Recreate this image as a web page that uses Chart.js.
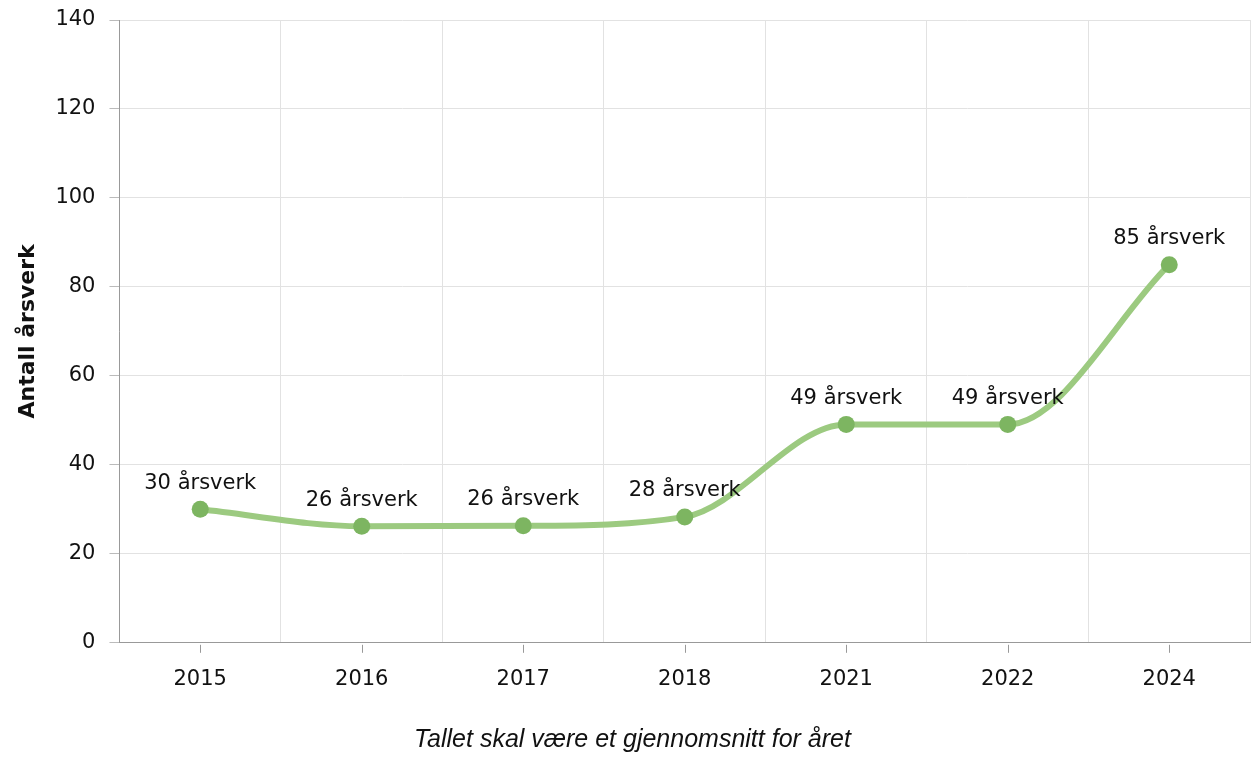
<!DOCTYPE html>
<html>
<head>
<meta charset="utf-8">
<script src="https://cdn.jsdelivr.net/npm/chart.js@4"></script>
<style>
  html, body { margin: 0; padding: 0; background: #fff; }
  #wrap { width: 1255px; height: 758px; }
</style>
</head>
<body>
<div id="wrap"><canvas id="myChart" width="1255" height="758"></canvas></div>
<script>
const years = ['2015', '2016', '2017', '2018', '2021', '2022', '2024'];
const aarsverk = [30, 26.2, 26.3, 28.3, 49.1, 49.1, 85];
const pointLabels = ['30 årsverk', '26 årsverk', '26 årsverk', '28 årsverk', '49 årsverk', '49 årsverk', '85 årsverk'];
const yTicks = [0, 20, 40, 60, 80, 100, 120, 140];

const tickFont = { family: 'DejaVu Sans', size: 21 };

// labels over each point + small tick marks under category centers
const extras = {
  id: 'extras',
  afterDatasetsDraw(chart) {
    const ctx = chart.ctx;
    const meta = chart.getDatasetMeta(0);
    ctx.save();
    ctx.font = '21px "DejaVu Sans"';
    ctx.fillStyle = '#111';
    ctx.textAlign = 'center';
    ctx.textBaseline = 'middle';
    meta.data.forEach((pt, i) => {
      ctx.fillText(pointLabels[i], pt.x, pt.y - 26);
    });
    const xs = chart.scales.x;
    ctx.strokeStyle = '#999';
    ctx.lineWidth = 1;
    years.forEach((y, i) => {
      const px = Math.round(xs.getPixelForValue(i)) + 0.5;
      ctx.beginPath();
      ctx.moveTo(px, xs.top + 2);
      ctx.lineTo(px, xs.top + 10);
      ctx.stroke();
    });
    ctx.restore();
  }
};

var chartContext = document.getElementById('myChart').getContext('2d');
var myChart = new Chart(chartContext, {
  type: 'line',
  data: {
    labels: years,
    datasets: [{
      data: aarsverk,
      borderColor: '#9cca80',
      borderWidth: 6,
      cubicInterpolationMode: 'monotone',
      pointRadius: 8.5,
      pointHoverRadius: 8.5,
      pointBackgroundColor: '#7db561',
      pointBorderColor: '#7db561',
      pointBorderWidth: 0,
      fill: false
    }]
  },
  plugins: [extras],
  options: {
    responsive: false,
    animation: false,
    layout: { autoPadding: false, padding: { top: 7, right: 5, left: 15, bottom: 0 } },
    plugins: {
      legend: { display: false },
      tooltip: { enabled: false },
      title: {
        display: true,
        position: 'bottom',
        text: 'Tallet skal være et gjennomsnitt for året',
        color: '#111',
        font: { family: 'Liberation Sans', size: 25, style: 'italic', weight: 'normal' },
        padding: { top: 9, bottom: 3 }
      }
    },
    scales: {
      x: {
        offset: true,
        grid: { offset: true, color: '#e2e2e2', drawTicks: false },
        border: { color: '#999', width: 1 },
        ticks: { color: '#111', font: tickFont, padding: 24 }
      },
      y: {
        min: 0,
        max: 140,
        afterBuildTicks(axis) { axis.ticks = yTicks.map(v => ({ value: v })); },
        afterFit(axis) { axis.paddingTop = 20; },
        grid: { color: '#e2e2e2', tickLength: 10, tickColor: '#bbb' },
        border: { color: '#999', width: 1 },
        ticks: { color: '#111', font: tickFont, padding: 14 },
        title: {
          display: true,
          text: 'Antall årsverk',
          color: '#111',
          font: { family: 'DejaVu Sans', size: 22, weight: 'bold' },
          padding: { top: 0, bottom: 0 }
        }
      }
    }
  }
});
</script>
</body>
</html>
